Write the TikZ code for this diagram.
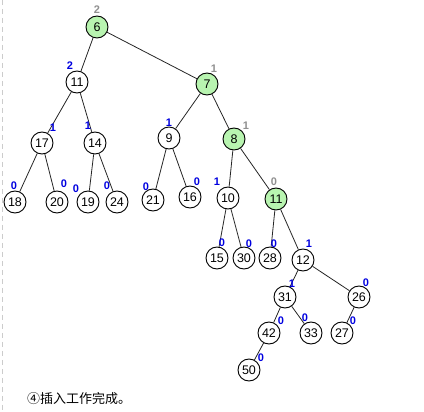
\documentclass[tikz,border=0pt]{standalone}
\usepackage{fontspec}
\setmainfont{Liberation Sans}
\newfontfamily\cjk{Noto Sans CJK SC}
\definecolor{lgreen}{HTML}{B8F4B0}
\definecolor{rankblue}{HTML}{0000E0}
\definecolor{rankgray}{HTML}{909090}
\tikzset{
  hn/.style={circle,draw=black,line width=0.9pt,fill=white,minimum size=22pt,inner sep=0pt,font=\fontsize{12.5}{14}\selectfont},
  gn/.style={hn,fill=lgreen},
  bl/.style={text=rankblue,font=\fontsize{11}{12}\selectfont\bfseries,inner sep=0pt},
  gl/.style={text=rankgray,font=\fontsize{11}{12}\selectfont\bfseries,inner sep=0pt},
  ed/.style={draw=black!85,line width=0.8pt}
}
\begin{document}
\begin{tikzpicture}[x=1pt,y=-1pt]
\useasboundingbox (0,0) rectangle (424,412);
\fill[white] (0,0) rectangle (424,412);
\draw[black!20,dashed,line width=0.8pt,dash pattern=on 5pt off 4pt] (2,0) -- (2,412);
% nodes
\node[gn] (n6)  at (97,27) {6};
\node[hn] (n11) at (77,82) {11};
\node[gn] (n7)  at (207,84) {7};
\node[hn] (n17) at (42,143) {17};
\node[hn] (n14) at (95,143) {14};
\node[hn] (n9)  at (169,138) {9};
\node[gn] (n8)  at (234,139) {8};
\node[hn] (n18) at (15,202) {18};
\node[hn] (n20) at (57,202) {20};
\node[hn] (n19) at (88,202) {19};
\node[hn] (n24) at (117,202) {24};
\node[hn] (n21) at (153,200) {21};
\node[hn] (n16) at (190,197) {16};
\node[hn] (n10) at (228,198) {10};
\node[gn] (g11) at (276,199) {11};
\node[hn] (n15) at (217,258) {15};
\node[hn] (n30) at (244,258) {30};
\node[hn] (n28) at (270,258) {28};
\node[hn] (n12) at (303,260) {12};
\node[hn] (n31) at (285,297) {31};
\node[hn] (n26) at (359,297) {26};
\node[hn] (n42) at (269,333) {42};
\node[hn] (n33) at (311,333) {33};
\node[hn] (n27) at (342,333) {27};
\node[hn] (n50) at (249,370) {50};
% edges
\draw[ed] (n6)--(n11); \draw[ed] (n6)--(n7);
\draw[ed] (n11)--(n17); \draw[ed] (n11)--(n14);
\draw[ed] (n7)--(n9); \draw[ed] (n7)--(n8);
\draw[ed] (n17)--(n18); \draw[ed] (n17)--(n20);
\draw[ed] (n14)--(n19); \draw[ed] (n14)--(n24);
\draw[ed] (n9)--(n21); \draw[ed] (n9)--(n16);
\draw[ed] (n8)--(n10); \draw[ed] (n8)--(g11);
\draw[ed] (n10)--(n15); \draw[ed] (n10)--(n30);
\draw[ed] (g11)--(n28); \draw[ed] (g11)--(n12);
\draw[ed] (n12)--(n31); \draw[ed] (n12)--(n26);
\draw[ed] (n31)--(n42); \draw[ed] (n31)--(n33);
\draw[ed] (n26)--(n27);
\draw[ed] (n42)--(n50);
% rank labels
\node[gl] (l6)  at (97,10) {2};
\node[bl] (l11) at (70,66) {2};
\node[gl] (l7)  at (214,69) {1};
\node[bl] (l17) at (53,128) {1};
\node[bl] (l14) at (88,126) {1};
\node[bl] (l9)  at (169,123) {1};
\node[gl] (l8)  at (246,126) {1};
\node[bl] (l18) at (14,186) {0};
\node[bl] (l20) at (64,184) {0};
\node[bl] (l19) at (76,189) {0};
\node[bl] (l24) at (107,186) {0};
\node[bl] (l21) at (146,187) {0};
\node[bl] (l16) at (197,182) {0};
\node[bl] (l10) at (217,182) {1};
\node[gl] (lg11) at (274,182) {0};
\node[bl] (l15) at (222,243) {0};
\node[bl] (l30) at (249,244) {0};
\node[bl] (l28) at (274,244) {0};
\node[bl] (l12) at (309,244) {1};
\node[bl] (l31) at (292,284) {1};
\node[bl] (l26) at (366,283) {0};
\node[bl] (l42) at (281,321) {0};
\node[bl] (l33) at (305,318) {0};
\node[bl] (l27) at (353,321) {0};
\node[bl] (l50) at (261,358) {0};
% caption
\node[anchor=west,inner sep=0pt,font=\cjk\fontsize{13}{15}\selectfont] (cap) at (27,399) {④插入工作完成。};
\end{tikzpicture}
\end{document}
